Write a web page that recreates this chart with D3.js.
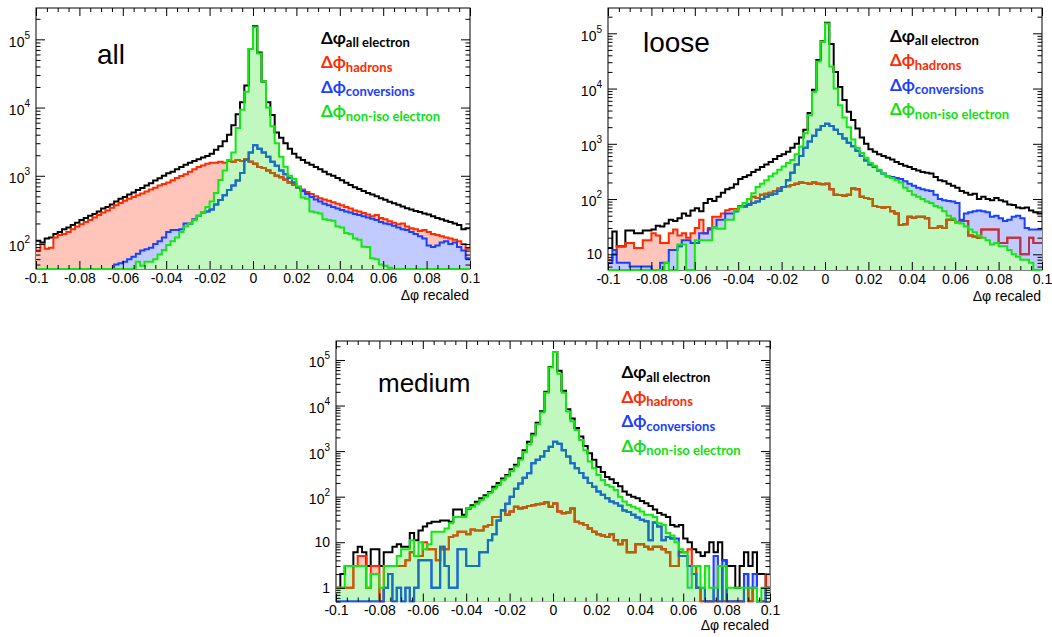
<!DOCTYPE html>
<html><head><meta charset="utf-8">
<script src="https://cdn.jsdelivr.net/npm/d3@7"></script>
<style>body{margin:0;background:#fff}svg{display:block;background:#fff}</style>
</head><body>
<svg id="c" width="1052" height="637"></svg>
<script>
// ---------------- data ----------------
const binLo = -0.1, binHi = 0.1, nBins = 100;
const xTicks = [-0.1, -0.08, -0.06, -0.04, -0.02, 0, 0.02, 0.04, 0.06, 0.08, 0.1];
const xTickLabels = ["-0.1", "-0.08", "-0.06", "-0.04", "-0.02", "0", "0.02", "0.04", "0.06", "0.08", "0.1"];
const panelNames = ["all", "loose", "medium"];
const legendLabels = ["all electron", "hadrons", "conversions", "non-iso electron"];
const yDomains = [[43, 2.88e5], [5.2, 2.87e5], [0.5, 2.61e5]];
const yLabelValues = [[1e2, 1e3, 1e4, 1e5], [10, 1e2, 1e3, 1e4, 1e5], [1, 10, 1e2, 1e3, 1e4, 1e5]];

// panel "all"
const allAll = [112,105,120,125,140,150,165,175,190,205,
 225,240,260,275,300,330,350,380,420,460,
 490,530,570,620,660,720,780,850,920,1000,
 1090,1150,1250,1350,1450,1550,1650,1750,1850,1950,
 2100,2400,2700,3200,4000,5500,8000,12000,21000,72000,
 155000,64000,24000,12000,7800,4300,3600,3000,2500,2100,
 1850,1700,1550,1450,1350,1250,1150,1050,1000,930,
 860,790,730,680,640,600,560,530,500,470,
 445,415,395,375,355,335,320,305,295,280,
 270,255,240,230,220,210,200,190,165,170];
const allHad = [80,100,85,88,125,135,140,150,165,180,
 195,210,225,245,265,290,310,340,370,400,
 430,460,490,520,550,590,630,670,720,760,
 800,860,930,990,1050,1150,1250,1350,1420,1500,
 1550,1550,1600,1550,1650,1600,1700,1650,1750,1600,
 1500,1350,1300,1200,1100,1000,950,880,800,740,
 680,630,580,540,500,470,450,430,410,390,
 370,350,330,310,300,285,270,255,265,240,
 230,215,205,195,200,180,170,165,155,160,
 150,140,135,130,125,120,115,110,100,85];
const allConv = [20,22,21,24,23,25,26,28,27,30,
 31,30,33,34,35,36,38,40,50,52,
 55,60,65,72,80,84,88,100,110,125,
 150,160,160,165,200,200,230,260,290,300,
 320,380,440,520,620,720,850,1100,1700,2200,
 2800,2500,2200,1900,1600,1400,1200,1050,930,800,
 680,600,540,490,450,420,390,370,350,330,
 315,300,290,275,265,255,245,235,225,210,
 200,195,185,175,165,160,150,140,130,120,
 95,90,95,105,110,100,105,90,80,62];
const allNoniso = [10,11,12,12,13,14,15,15,16,17,
 18,19,20,21,22,24,25,27,29,31,
 34,37,40,55,48,55,55,60,70,82,
 97,110,125,150,180,200,225,260,290,350,
 420,560,870,1200,1700,2200,5000,9300,17000,72000,
 150000,62000,24000,10000,5300,3000,1900,1360,1000,900,
 700,480,460,300,290,280,230,225,220,180,
 175,145,140,120,115,91,90,62,60,50,
 48,45,35,30,28,25,22,20,18,15,
 14,12,11,10,9,8,8,7,6,5];

// panel "loose"
const looseAll = [13,26,14,14,27,27,24,24,27,27,
 28,33,32,36,42,40,45,55,50,62,
 68,60,85,100,92,110,130,150,160,185,
 230,250,270,310,340,380,420,470,530,600,
 650,720,850,1000,1300,1800,3600,9500,33000,72000,
 155000,64000,20000,10700,6200,3800,2700,1900,1300,1000,
 800,720,650,600,560,520,470,430,400,380,
 350,330,310,300,290,250,220,210,190,175,
 160,140,130,120,125,100,110,100,95,105,
 95,90,80,78,70,68,70,62,58,55];
const looseHad = [8,10,14,14,16,16,13,13,18,18,
 24,22,16,16,24,28,22,24,20,24,
 30,42,24,30,48,48,55,63,66,66,
 75,72,80,110,105,120,125,130,140,155,
 165,170,180,190,200,195,190,200,190,185,
 190,150,120,118,115,120,155,150,110,105,
 100,75,72,70,72,60,55,34,35,48,
 46,48,48,45,30,30,32,30,42,42,
 38,40,40,22,21,20,28,28,28,28,
 16,16,20,20,20,10,10,20,16,16];
const looseConv = [7,12,7,7,7,6,6,6,6,6,
 5,5,7,7,12,12,14,18,18,16,
 16,24,24,28,31,42,42,55,55,60,
 72,75,80,85,90,100,110,118,125,140,
 165,220,300,420,600,850,1100,1400,1800,2100,
 2300,2100,1800,1500,1250,1050,900,750,600,500,
 420,380,330,290,260,250,240,230,210,190,
 175,160,150,145,140,120,100,95,92,90,
 85,42,55,58,60,62,60,58,48,50,
 45,40,42,48,50,45,30,28,28,28];
const looseNoniso = [2,2,3,2,3,2,3,2,3,3,
 3,4,3,7,5,5,15,15,5,5,
 18,18,18,18,31,29,29,42,42,63,
 72,85,100,127,165,190,220,260,290,340,
 390,450,510,650,890,1550,3300,8700,31000,70000,
 150000,25000,10000,5000,3000,2000,1200,850,680,560,
 450,400,340,290,260,240,220,200,160,140,
 120,110,100,90,85,75,70,60,50,45,
 38,36,32,28,25,22,20,18,15,16,
 14,14,12,10,9,8,8,7,4,4];

// panel "medium"
const mediumAll = [1,2,3,3,6,8,6,3,7,7,
 3,6,6,8,9,8,8,16,11,18,
 22,26,28,28,30,30,28,52,52,40,
 55,65,77,92,108,127,165,200,250,300,
 400,500,700,1050,1600,2400,4200,7500,20000,70000,
 150000,58000,21000,8300,5200,3200,2100,1300,900,650,
 450,350,270,240,200,170,130,110,100,92,
 80,72,62,52,44,40,36,24,22,24,
 12,10,7,6,5,6,10,6,10,4,
 3,3,1,3,6,3,6,2,2,1];
const mediumHad = [1,1,1,1,3,5,5,1,3,3,
 0,3,3,3,3,3,4,6,5,5,
 10,7,7,4,7,7,13,14,17,17,
 15,19,18,18,22,24,36,36,51,40,
 47,60,55,58,62,65,68,70,75,60,
 71,47,43,45,55,28,26,24,20,17,
 15,14,13,15,11,9,11,6,6,9,
 9,8,7,8,8,7,6,3,3,6,
 6,7,3,1,0,0,0,0,3,0,
 0,0,0,0,2,0,1,0,0,2];
const mediumConv = [0,0,0,0,0,0,0,0,0,0,
 0,1,2,0,1,0,1,0,1,4,
 4,4,1,1,8,3,1,1,7,7,
 3,3,3,6,6,11,15,30,50,70,
 100,150,195,260,325,540,650,760,1000,1250,
 1600,1450,1050,760,540,420,330,260,200,165,
 130,110,92,78,72,63,50,46,40,35,
 31,29,11,27,22,11,13,12,12,5,
 5,3,2,1,1,0,0,5,0,4,
 0,0,0,0,2,1,2,0,0,1];
const mediumNoniso = [1,1,3,3,3,3,3,1,2,2,
 1,3,3,3,5,7,7,11,5,10,
 7,9,17,17,17,20,26,36,36,36,
 55,60,70,85,100,120,150,180,230,280,
 360,460,650,950,1400,2200,3900,7000,19000,68000,
 150000,50000,19000,7400,4500,2900,1750,1050,590,420,
 300,233,180,165,140,100,78,66,60,55,
 47,40,40,36,26,24,16,14,10,7,
 6,1,3,3,1,3,1,1,3,3,
 1,1,1,1,1,1,1,0,1,1];

const panelSeries = [
  [allAll, allHad, allConv, allNoniso],
  [looseAll, looseHad, looseConv, looseNoniso],
  [mediumAll, mediumHad, mediumConv, mediumNoniso]
];

// ---------------- layout / style ----------------
const layouts = [
  {l: 36, r: 470, t: 8, b: 269, lab: {x: 97, y: 64, s: 28}, leg: {x: 321, y: 43.5}, titleDy: 31},
  {l: 608, r: 1042, t: 8, b: 270, lab: {x: 643, y: 52, s: 28}, leg: {x: 890, y: 41.5}, titleDy: 31},
  {l: 336, r: 770, t: 341, b: 601.5, lab: {x: 378, y: 391.5, s: 26}, leg: {x: 621.5, y: 378}, titleDy: 28.5}
];
const lineColors = ["#000000", "#ff2a00", "#1a40ff", "#14e614"];
const textColors = ["#000000", "#ff2a00", "#1a40ff", "#10e010"];
const hasFill = [false, true, true, true];
const dotCover = 0.27;   // share of fill pixels covered by the dotted pattern
const axisFont = "'Liberation Sans', Arial, Helvetica, sans-serif";
const legendFont = "Lato, 'Noto Sans', 'DejaVu Sans', sans-serif";

const tint = c => d3.interpolateRgb("#ffffff", c)(dotCover);
const mixLine = (a, b) => d3.interpolateRgb(a, b)(0.3);

const svg = d3.select("#c");
const defs = svg.append("defs");
const bw = (binHi - binLo) / nBins;

layouts.forEach((L, pi) => {
  const series = panelSeries[pi];
  const x = d3.scaleLinear().domain([binLo, binHi]).range([L.l, L.r]);
  const y = d3.scaleLog().domain(yDomains[pi]).range([L.b, L.t]).clamp(true);
  const floor = yDomains[pi][0] * 0.1;
  const g = svg.append("g");

  g.append("rect").attr("x", L.l).attr("y", L.t).attr("width", L.r - L.l).attr("height", L.b - L.t)
    .attr("fill", "#fff").attr("stroke", "#000").attr("stroke-width", 1);

  const clipId = "clip" + pi;
  defs.append("clipPath").attr("id", clipId).append("rect")
    .attr("x", L.l - 1).attr("y", L.t).attr("width", L.r - L.l + 2).attr("height", L.b - L.t + 1.2);
  const hg = g.append("g").attr("clip-path", `url(#${clipId})`);

  const yv = v => y(v > 0 ? v : floor);
  const ptsOf = vals => { const p = vals.map((v, i) => [binLo + i * bw, v]); p.push([binHi, vals[vals.length - 1]]); return p; };
  const areaGen = d3.area().curve(d3.curveStepAfter).x(d => x(d[0])).y0(L.b).y1(d => yv(d[1]));
  const lineGen = d3.line().curve(d3.curveStepAfter).x(d => x(d[0])).y(d => yv(d[1]));
  const areaD = series.map(v => areaGen(ptsOf(v)));
  const lineD = series.map(v => lineGen(ptsOf(v)));

  // area clip paths (used to dim lines lying under later fills)
  series.forEach((v, si) => {
    if (hasFill[si]) defs.append("clipPath").attr("id", `ac${pi}_${si}`).append("path").attr("d", areaD[si]);
  });

  // fills: later fill dots replace earlier ones
  series.forEach((v, si) => {
    if (hasFill[si]) hg.append("path").attr("d", areaD[si]).attr("fill", tint(lineColors[si]));
  });
  // outlines, dimmed where a later fill lies over them
  series.forEach((v, si) => {
    hg.append("path").attr("d", lineD[si]).attr("fill", "none")
      .attr("stroke", lineColors[si]).attr("stroke-width", 2);
    for (let sj = si + 1; sj < series.length; sj++) {
      if (!hasFill[sj]) continue;
      hg.append("g").attr("clip-path", `url(#ac${pi}_${sj})`)
        .append("path").attr("d", lineD[si]).attr("fill", "none")
        .attr("stroke", mixLine(lineColors[si], lineColors[sj])).attr("stroke-width", 2);
    }
  });

  // ticks
  const minorX = d3.range(0, 41).map(j => binLo + j * 0.005).filter(v => Math.abs(Math.round(v / 0.02) * 0.02 - v) > 1e-9);
  const e0 = Math.floor(Math.log10(yDomains[pi][0])), e1 = Math.ceil(Math.log10(yDomains[pi][1]));
  const minorY = [];
  for (let e = e0; e <= e1; e++) for (let k = 2; k <= 9; k++) {
    const v = k * Math.pow(10, e);
    if (v >= yDomains[pi][0] && v <= yDomains[pi][1]) minorY.push(v);
  }
  const majorY = yLabelValues[pi];
  const clean = sel => { sel.select(".domain").remove(); sel.selectAll("line").attr("stroke", "#000"); };

  const bx = g.append("g").attr("transform", `translate(0,${L.b})`)
    .call(d3.axisBottom(x).tickValues(xTicks).tickFormat((d, i) => xTickLabels[i]).tickSizeInner(-8).tickSizeOuter(0).tickPadding(4));
  clean(bx);
  bx.selectAll("text").attr("font-family", axisFont).attr("font-size", 14).attr("fill", "#000");
  g.append("g").attr("transform", `translate(0,${L.b})`)
    .call(d3.axisBottom(x).tickValues(minorX).tickFormat("").tickSizeInner(-4).tickSizeOuter(0)).call(clean);
  g.append("g").attr("transform", `translate(0,${L.t})`)
    .call(d3.axisTop(x).tickValues(xTicks).tickFormat("").tickSizeInner(-8).tickSizeOuter(0)).call(clean);
  g.append("g").attr("transform", `translate(0,${L.t})`)
    .call(d3.axisTop(x).tickValues(minorX).tickFormat("").tickSizeInner(-4).tickSizeOuter(0)).call(clean);
  g.append("g").attr("transform", `translate(${L.l},0)`)
    .call(d3.axisLeft(y).tickValues(majorY).tickFormat("").tickSizeInner(-9).tickSizeOuter(0)).call(clean);
  g.append("g").attr("transform", `translate(${L.l},0)`)
    .call(d3.axisLeft(y).tickValues(minorY).tickFormat("").tickSizeInner(-4.5).tickSizeOuter(0)).call(clean);
  g.append("g").attr("transform", `translate(${L.r},0)`)
    .call(d3.axisRight(y).tickValues(majorY).tickFormat("").tickSizeInner(-9).tickSizeOuter(0)).call(clean);
  g.append("g").attr("transform", `translate(${L.r},0)`)
    .call(d3.axisRight(y).tickValues(minorY).tickFormat("").tickSizeInner(-4.5).tickSizeOuter(0)).call(clean);

  // y labels
  majorY.forEach(v => {
    const e = Math.round(Math.log10(v));
    const t = g.append("text").attr("x", L.l - 6).attr("text-anchor", "end")
      .attr("font-family", axisFont).attr("font-size", 14).attr("fill", "#000");
    if (e >= 2) {
      t.attr("y", y(v) + 7.4);
      t.append("tspan").text("10");
      t.append("tspan").attr("font-size", 10).attr("dy", -8).text(String(e));
    } else {
      t.attr("y", y(v) + 5).text(e === 1 ? "10" : "1");
    }
  });

  // axis title
  g.append("text").attr("x", L.r - 1).attr("y", L.b + L.titleDy).attr("text-anchor", "end")
    .attr("font-family", axisFont).attr("font-size", 14).attr("fill", "#000").text("Δφ recaled");

  // panel label
  g.append("text").attr("x", L.lab.x).attr("y", L.lab.y).attr("font-family", axisFont)
    .attr("font-size", L.lab.s).attr("fill", "#000").text(panelNames[pi]);

  // legend
  legendLabels.forEach((lab, i) => {
    const t = g.append("text").attr("x", L.leg.x).attr("y", L.leg.y + i * 24.6)
      .attr("font-family", legendFont).attr("font-weight", "bold").attr("fill", textColors[i]);
    t.append("tspan").attr("font-size", 17).text(i === 0 ? "Δφ" : "Δϕ");
    t.append("tspan").attr("font-size", 13).attr("dy", 3.5).text(lab);
  });
});
</script>
</body></html>
